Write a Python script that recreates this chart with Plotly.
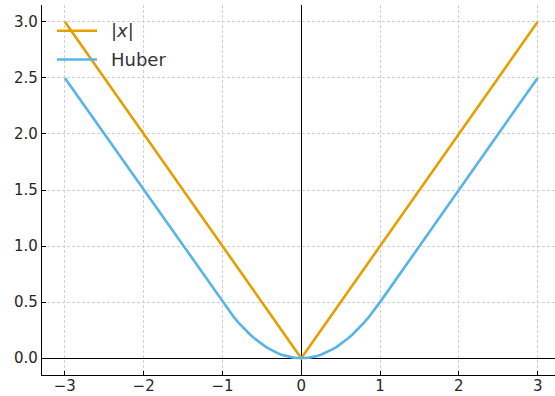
import plotly.graph_objects as go

# |x| loss: straight lines through the origin
abs_x = [-3.0, 0.0, 3.0]
abs_y = [3.0, 0.0, 3.0]

# Huber loss (delta = 1): quadratic core, linear tails
huber_x = [-3.0, -1.0, -0.95, -0.9, -0.85, -0.8, -0.75, -0.7, -0.65, -0.6, -0.55,
           -0.5, -0.45, -0.4, -0.35, -0.3, -0.25, -0.2, -0.15, -0.1, -0.05, 0.0,
           0.05, 0.1, 0.15, 0.2, 0.25, 0.3, 0.35, 0.4, 0.45, 0.5,
           0.55, 0.6, 0.65, 0.7, 0.75, 0.8, 0.85, 0.9, 0.95, 1.0, 3.0]
huber_y = [2.5, 0.5, 0.451, 0.405, 0.361, 0.32, 0.281, 0.245, 0.211, 0.18, 0.151,
           0.125, 0.101, 0.08, 0.061, 0.045, 0.031, 0.02, 0.011, 0.005, 0.001, 0.0,
           0.001, 0.005, 0.011, 0.02, 0.031, 0.045, 0.061, 0.08, 0.101, 0.125,
           0.151, 0.18, 0.211, 0.245, 0.281, 0.32, 0.361, 0.405, 0.451, 0.5, 2.5]

x_ticks = [-3, -2, -1, 0, 1, 2, 3]
x_tick_text = ["\u22123", "\u22122", "\u22121", "0", "1", "2", "3"]
y_ticks = [0.0, 0.5, 1.0, 1.5, 2.0, 2.5, 3.0]
y_tick_text = ["0.0", "0.5", "1.0", "1.5", "2.0", "2.5", "3.0"]

series_names = ["|<i>x</i>|", "Huber"]

ORANGE = "#E69F00"
BLUE = "#56B4E9"
FONT = "DejaVu Sans"
colors = [ORANGE, BLUE]

W, H = 555, 396
M = dict(l=42, r=0, t=5, b=21)
plot_w = W - M["l"] - M["r"]
plot_h = H - M["t"] - M["b"]


def px_to_paper(px, py):
    return (px - M["l"]) / plot_w, 1 - (py - M["t"]) / plot_h


fig = go.Figure()
fig.add_trace(go.Scatter(x=abs_x, y=abs_y, mode="lines", name=series_names[0],
                         showlegend=False, line=dict(color=ORANGE, width=2.6)))
fig.add_trace(go.Scatter(x=huber_x, y=huber_y, mode="lines", name=series_names[1],
                         showlegend=False, line=dict(color=BLUE, width=2.6)))

# Legend drawn in the upper-left corner: sample line + label per series
for i, (name, col) in enumerate(zip(series_names, colors)):
    row_y = 30.7 + i * 28.8
    x0, yy = px_to_paper(57, row_y)
    x1, _ = px_to_paper(97, row_y)
    xt, _ = px_to_paper(109, row_y)
    fig.add_shape(type="line", xref="paper", yref="paper", x0=x0, x1=x1, y0=yy, y1=yy,
                  line=dict(color=col, width=2.6))
    fig.add_annotation(xref="paper", yref="paper", x=xt, y=yy, text=name,
                       showarrow=False, xanchor="left", yanchor="middle",
                       font=dict(family=FONT, size=18, color="#333333"))

axis_common = dict(
    showgrid=True, gridcolor="#d0d0d0", griddash="3px,2px", gridwidth=0.8,
    zeroline=True, zerolinecolor="black", zerolinewidth=1.2,
    showline=True, linecolor="black", linewidth=1.2,
    ticks="inside", ticklen=4, tickcolor="black", tickwidth=1,
    tickfont=dict(family=FONT, size=15, color="#262626"),
    automargin=False,
)

fig.update_layout(
    width=W, height=H,
    margin=M,
    paper_bgcolor="white", plot_bgcolor="white",
    font=dict(family=FONT),
    xaxis=dict(range=[-3.29, 3.22], tickvals=x_ticks, ticktext=x_tick_text,
               ticklabelstandoff=-3, **axis_common),
    yaxis=dict(range=[-0.15, 3.15], tickvals=y_ticks, ticktext=y_tick_text, **axis_common),
    showlegend=False,
)

fig.write_html("out.html")
